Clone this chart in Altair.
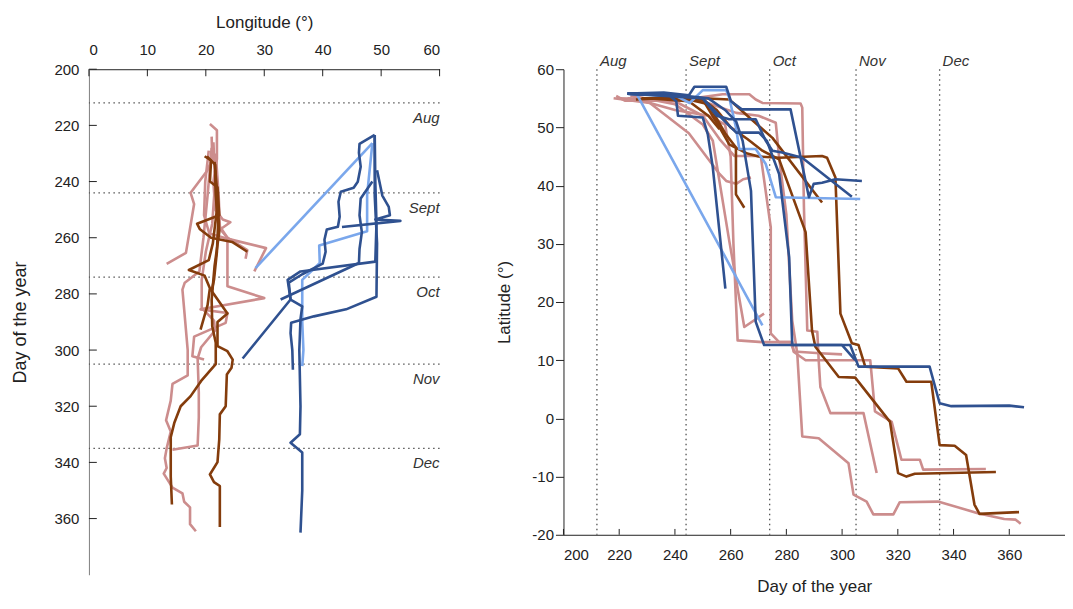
import altair as alt
import pandas as pd

# ---------------- reference values ----------------
MONTH_NAMES = ["Aug", "Sept", "Oct", "Nov", "Dec"]
MONTH_DAYS = [212, 244, 274, 305, 335]

LON_TICKS = [0, 10, 20, 30, 40, 50, 60]
DAY_TICKS = [200, 220, 240, 260, 280, 300, 320, 340, 360]
LAT_TICKS = [-20, -10, 0, 10, 20, 30, 40, 50, 60]

# Left panel tracks: (longitude, day of year)
LEFT_PINK = {
    "pk1": [(20.7, 219.5), (21.9, 221.7), (21.9, 232), (21.3, 240), (21.6, 250), (22.9, 253.5), (24.2, 254.5),
            (22.5, 257), (23.7, 260), (23.7, 277.3), (30.0, 281.5), (19.1, 285.5), (23.7, 286.8), (23.4, 290.3),
            (18.0, 295.2), (17.7, 302.2), (19.7, 303.4)],
    "pk2": [(21.0, 224), (21.1, 232), (20.3, 236), (17.4, 244), (18.0, 248), (16.6, 265.4), (13.3, 269.3)],
    "pk3": [(20.5, 229), (19.9, 240), (19.7, 252), (20.6, 258.5), (24.0, 260.5), (30.3, 263.7), (28.3, 272)],
    "pk4": [(21.7, 230), (22.2, 245), (22.4, 256), (23.7, 260), (27.1, 264.4), (26.8, 267.5)],
    "pk5": [(21.0, 228), (20.3, 245), (19.6, 260), (18.9, 272), (16.4, 276), (16.0, 278.5), (16.3, 285.6),
            (16.9, 300), (16.9, 309), (14.3, 312), (14.0, 318), (13.2, 325), (14.0, 329), (13.3, 335),
            (13.0, 338.5), (13.3, 342), (12.8, 344), (14.3, 349), (16.0, 351), (16.3, 354), (17.3, 356),
            (17.3, 362), (18.3, 364.5)],
    "pk6": [(21.3, 226), (21.6, 240), (21.1, 255), (20.0, 265), (19.3, 275), (19.3, 285), (21.4, 289.5),
            (21.6, 293), (19.2, 299), (18.6, 303), (18.8, 315), (18.8, 324), (18.6, 334), (14.3, 335.5)],
}
LEFT_BROWN = {
    "br1": [(20.2, 231), (21.6, 234), (21.7, 245), (22.1, 255), (21.9, 265), (21.4, 275), (21.0, 279),
            (23.7, 287), (22.0, 290), (22.0, 298.6), (23.7, 300.4), (24.6, 303.4), (24.4, 306.3), (23.6, 308.7),
            (23.4, 320), (22.4, 322.9), (22.3, 331.8), (22.0, 339.9), (20.7, 344.3), (21.4, 347), (22.4, 348.4),
            (22.4, 363)],
    "br2": [(21.5, 233), (22.0, 245), (22.3, 258), (21.5, 270), (21.0, 282), (21.1, 291.5), (21.7, 297.4),
            (21.7, 305), (19.2, 311), (17.4, 316.4), (15.7, 320), (14.6, 326), (14.0, 331), (14.0, 345),
            (14.2, 355)],
    "br3": [(19.8, 231), (20.9, 232.5), (20.7, 240), (22.0, 242), (22.3, 252), (18.5, 255), (19.0, 257),
            (20.9, 260), (24.5, 261.5), (27.1, 265)],
    "br4": [(21.6, 236), (21.9, 250), (21.2, 262), (20.5, 268), (17.1, 271.5), (19.8, 273.5), (20.7, 278),
            (20.3, 284), (19.1, 292.7)],
}
LEFT_LIGHTBLUE = {
    "lb1": [(48.5, 226.3), (47.6, 244.7), (47.6, 257.7), (39.4, 262.8), (39.5, 269), (36.5, 275), (36.5, 290),
            (36.7, 300), (36.5, 305.7)],
    "lb2": [(48.5, 226.3), (28.5, 270.8)],
}
LEFT_DARKBLUE = {
    "db1": [(48.9, 223.4), (49.0, 240), (49.2, 255), (49.0, 268.5), (36.2, 272), (34.0, 275), (34.5, 282),
            (36.5, 284.4), (36.2, 289), (36.0, 300), (36.2, 320), (36.1, 330), (34.5, 333), (36.5, 336.5),
            (36.5, 350), (36.3, 360), (36.2, 365)],
    "db2": [(48.9, 223.4), (48.9, 245), (49.3, 262), (49.2, 281), (44.0, 285.5), (38.5, 288), (34.6, 290.3),
            (34.5, 294), (34.8, 300), (34.9, 307)],
    "db3": [(48.9, 223.4), (46.3, 226.6), (46.2, 229.8), (46.5, 234.7), (46.0, 240.1), (45.3, 242.2),
            (43.1, 243.6), (42.7, 247.2), (42.9, 252.5), (42.6, 256.1), (40.7, 257.1), (40.3, 260.7),
            (40.5, 265), (40.0, 269.2), (36.5, 273), (34.2, 276), (34.5, 282), (26.3, 303)],
    "db4": [(49.3, 236), (50.2, 245), (51.3, 249), (51.5, 252), (49.0, 253.5), (53.3, 254), (43.3, 256.2)],
    "db5": [(48.5, 240), (46.5, 246), (46.3, 252), (46.7, 258), (46.3, 264), (46.2, 269), (32.8, 282)],
}

# Right panel tracks: (day of year, latitude)
RIGHT_PINK = {
    "pr1": [(218.9, 55.4), (222, 54.6), (240, 54.6), (250, 55.2), (257.1, 55.7), (266.7, 55.7), (269, 54.8),
            (271.4, 54.2), (285.1, 54.1), (285.7, 53.4), (286.3, 36.3), (287.5, 15.1), (291.1, 14.9),
            (291.6, 10), (292.2, 5.4), (295.8, 0.9), (307.7, 0.9), (312.4, -9.4)],
    "pr2": [(220, 55), (235, 54.8), (250, 54.5), (262, 52.5), (270, 52), (276.2, 50.8), (277.4, 44.8),
            (280, 35), (282.1, 16.8), (283.9, 11.2), (285.7, -3.1), (291.6, -3.4), (302.3, -7.7),
            (304.1, -13.1), (308.8, -14.3), (311.2, -16.5), (318.4, -16.5), (320.7, -14.4), (334.4, -14.3),
            (343.9, -15.6), (348.7, -16.3), (358.2, -17.3), (362.3, -17.4), (364.1, -18.1)],
    "pr3": [(225, 55), (240, 53), (252, 52), (258, 50.5), (260, 45), (261, 30), (262.5, 13.4), (271.4, 13.1),
            (282.1, 13.1), (282.7, 11.4), (286.9, 10), (310.1, 10), (311.8, 1.2), (317.8, -0.6), (321.3, -7.1),
            (327.9, -7.1), (329.1, -8.8), (351.6, -8.7)],
    "pr4": [(224, 55.5), (240, 54), (250, 50.5), (253.6, 47.7), (259.5, 30.5), (264.9, 15.7), (272, 18)],
    "pr5": [(218, 55), (231, 54.2), (245, 49), (256, 42), (258.4, 40.8), (262, 40.3), (264.5, 41.1),
            (267.3, 41.4)],
    "pr6": [(223, 55), (240, 54.5), (250, 52), (256, 48), (261.3, 45.1), (270.8, 45.1), (274.4, 32.8),
            (274.4, 14.6), (277.4, 13.1), (281.5, 13.1), (282.7, 11.5), (292, 11.2), (300, 11)],
}
RIGHT_BROWN = {
    "br1": [(226, 54.8), (235, 55), (245, 54.8), (252, 54), (258, 49), (262, 46.5), (266, 45.5), (270, 45),
            (277.4, 44.8), (292.8, 45.1), (294.6, 44.8), (297.6, 41.4), (299.4, 18), (303.5, 12.9),
            (305.9, 12.6), (308.3, 8.9), (320.1, 8.6), (323.1, 6.3), (332, 6.3), (335, -4.6), (340.4, -4.7),
            (344.5, -6.3), (347.5, -14.8), (349.3, -16.4), (363.5, -16.1)],
    "br2": [(229, 55), (240, 55), (250, 54.8), (255, 53), (260, 50), (266, 48), (271.4, 46), (277.4, 44.5),
            (286.9, 32), (289.2, 15.1), (290.4, 12.3), (298.8, 7.1), (304.7, 7), (317.2, -0.6), (320.1, -9.4),
            (323.1, -10), (326.1, -9.5), (355.2, -9.2)],
    "br3": [(228, 55), (240, 55), (250, 54.8), (256, 50), (259.5, 47.1), (261.9, 46.5), (261.9, 38.5),
            (264.9, 36.2)],
    "br4": [(230, 55), (245, 54.5), (252, 52), (256, 49.7)],
    "br5": [(232, 55), (250, 55), (259.5, 54.8), (266.7, 51.7), (275, 48.2), (292.8, 37.1)],
}
RIGHT_LIGHTBLUE = {
    "lb1": [(223, 55.8), (226.3, 55.7), (271.4, 16)],
    "lb2": [(223, 55.8), (240, 55.5), (245.3, 54.2), (250, 56.4), (258.4, 56.4), (259.5, 55.1), (261.9, 50),
            (263.1, 46.3), (269, 46.3), (272.6, 43.7), (276.2, 38), (306.5, 37.7)],
}
RIGHT_DARKBLUE = {
    "db1": [(223, 55.8), (240, 55.6), (252, 55), (258, 53), (262, 51), (264.3, 47.7), (267.3, 39.1),
            (267.8, 32.3), (269, 16.6), (272, 12.6), (302.9, 12.6), (305.9, 8.9), (331.4, 8.9), (335, 2.6),
            (339.2, 2.1), (360, 2.2), (365.3, 1.9)],
    "db2": [(223, 55.8), (238, 55.5), (240.5, 54.5), (241.1, 52), (250, 51.7), (251.8, 48.8), (253.6, 43.1),
            (258.1, 22.3)],
    "db3": [(223, 55.8), (236, 56), (245, 55.5), (247, 57), (258.4, 57), (260.1, 54.5), (264, 53.1),
            (281.5, 53.1), (288.1, 38), (289.8, 40.3), (292.8, 40.5), (297.6, 41.1), (307.1, 40.8)],
    "db4": [(223, 55.8), (240, 55.4), (250, 55), (255, 52), (259.5, 51.4), (269, 51.4), (272.6, 47.7),
            (275, 46), (278.5, 45.7), (285.7, 44.8), (303.5, 38.1)],
    "db5": [(223, 55.8), (250, 55), (258, 51), (262, 49.1), (270.2, 49.1), (273, 47.7), (277.4, 42),
            (281, 27.7), (282.1, 12.6), (300, 12.6), (304.7, 10)],
}

COLORS = {"pink": "#CC8D8D", "brown": "#843C0C", "lightblue": "#7AA7EC", "darkblue": "#2F5190"}
FONT = "Liberation Sans"
INK = "#222222"


def to_frame(groups, xname, yname):
    rows = []
    for grp, tracks in groups:
        for tid, pts in tracks.items():
            for i, (a, b) in enumerate(pts):
                rows.append({"grp": grp, "track": grp + "_" + tid, "i": i, xname: a, yname: b})
    return pd.DataFrame(rows)


left_df = to_frame([("pink", LEFT_PINK), ("brown", LEFT_BROWN),
                    ("lightblue", LEFT_LIGHTBLUE), ("darkblue", LEFT_DARKBLUE)], "lon", "day")
right_df = to_frame([("pink", RIGHT_PINK), ("brown", RIGHT_BROWN),
                     ("lightblue", RIGHT_LIGHTBLUE), ("darkblue", RIGHT_DARKBLUE)], "day", "lat")
months_df = pd.DataFrame({"name": MONTH_NAMES, "day": MONTH_DAYS})
lon_ticks_df = pd.DataFrame({"lon": LON_TICKS})
day_ticks_df = pd.DataFrame({"day": DAY_TICKS})

axis_common = dict(grid=False, labelFont=FONT, titleFont=FONT, labelFontSize=15, titleFontSize=17,
                   titleFontWeight="normal", labelColor=INK, titleColor=INK, tickColor=INK,
                   domainColor=INK)

# ---------------- left panel ----------------
lx = alt.X("lon:Q", scale=alt.Scale(domain=[0, 60], nice=False, zero=False),
           axis=alt.Axis(orient="top", values=LON_TICKS, title="Longitude (°)", titlePadding=11,
                         ticks=False, labelPadding=12, **axis_common))
ly = alt.Y("day:Q", scale=alt.Scale(domain=[200, 380], nice=False, zero=False, reverse=True),
           axis=alt.Axis(values=DAY_TICKS, title="Day of the year", titlePadding=24, ticks=False,
                         labelPadding=10, **{**axis_common, "domainColor": "#808080", "titleFontSize": 18}))

left_layers = [
    alt.Chart(months_df).mark_rule(strokeDash=[1.5, 3.5], color="#555", strokeWidth=1.3).encode(y=ly),
    alt.Chart(months_df).mark_text(align="right", baseline="top", dy=8, fontStyle="italic",
                                   fontSize=15, font=FONT, color="#333")
    .encode(y=ly, x=alt.datum(60), text="name:N"),
    # inward ticks
    alt.Chart(lon_ticks_df).mark_rule(color=INK, strokeWidth=1)
    .encode(x=lx, y=alt.datum(200), y2=alt.datum(202.5)),
    alt.Chart(day_ticks_df).mark_rule(color=INK, strokeWidth=1)
    .encode(y=ly, x=alt.datum(0), x2=alt.datum(1.35)),
]
for grp in ["pink", "brown", "lightblue", "darkblue"]:
    left_layers.append(alt.Chart(left_df).transform_filter(alt.datum.grp == grp)
                       .mark_line(strokeWidth=2.6, color=COLORS[grp], strokeJoin="round")
                       .encode(x=lx, y=ly, detail="track:N", order="i:Q"))
left = alt.layer(*left_layers).properties(width=351, height=506)

# ---------------- right panel ----------------
rx = alt.X("day:Q", scale=alt.Scale(domain=[200, 380], nice=False, zero=False),
           axis=alt.Axis(values=DAY_TICKS, title="Day of the year", titlePadding=16, ticks=False,
                         labelPadding=13, **axis_common))
ry = alt.Y("lat:Q", scale=alt.Scale(domain=[-20, 60], nice=False, zero=False),
           axis=alt.Axis(values=LAT_TICKS, title="Latitude (°)", titlePadding=18, tickSize=8,
                         labelPadding=2, labelExpr="'' + datum.value", **axis_common))

right_layers = [
    alt.Chart(months_df).mark_rule(strokeDash=[1.5, 3.5], color="#555", strokeWidth=1.3).encode(x=rx),
    alt.Chart(months_df).mark_text(align="left", baseline="alphabetic", dx=3, dy=-3,
                                   fontStyle="italic", fontSize=15, font=FONT, color="#333")
    .encode(x=rx, y=alt.datum(60), text="name:N"),
    alt.Chart(day_ticks_df).mark_rule(color=INK, strokeWidth=1)
    .encode(x=rx, y=alt.datum(-20), y2=alt.datum(-19)),
]
for grp in ["pink", "brown", "lightblue", "darkblue"]:
    right_layers.append(alt.Chart(right_df).transform_filter(alt.datum.grp == grp)
                        .mark_line(strokeWidth=2.6, color=COLORS[grp], strokeJoin="round")
                        .encode(x=rx, y=ry, detail="track:N", order="i:Q"))
right = alt.layer(*right_layers).properties(width=502, height=466)

chart = (alt.hconcat(left, right, spacing=124, bounds="flush")
         .configure_view(stroke=None)
         .properties(background="white",
                     padding={"left": 3, "top": 5, "right": 0, "bottom": 0}))

chart.save("out.html", embed_options={"renderer": "svg", "actions": False})
